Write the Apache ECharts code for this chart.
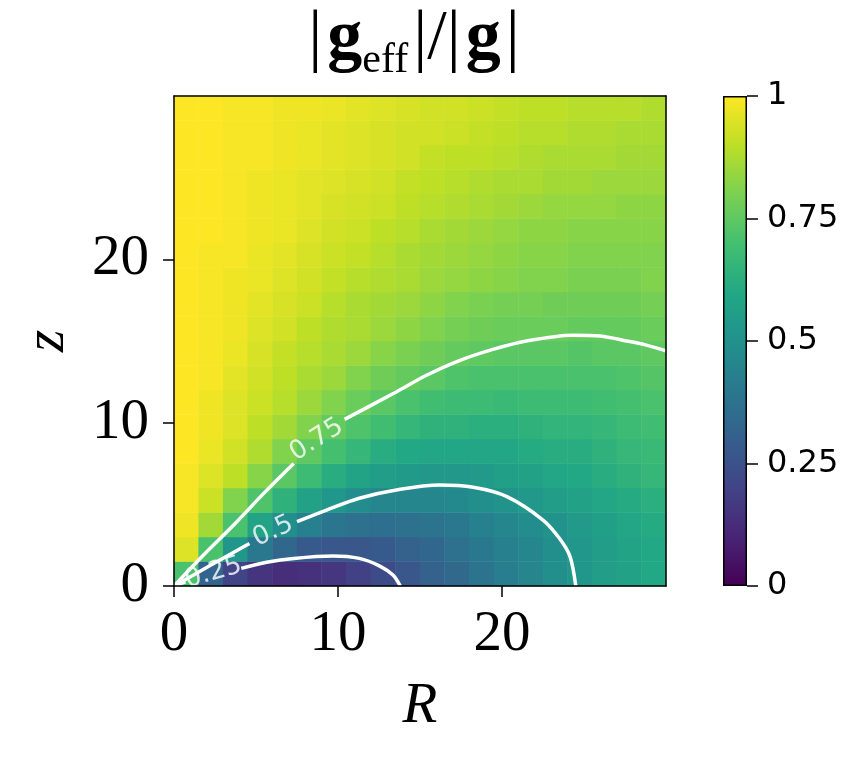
<!DOCTYPE html>
<html>
<head>
<meta charset="utf-8">
<title>|g_eff| / |g|</title>
<script src="https://cdn.jsdelivr.net/npm/echarts@6.0.0/dist/echarts.min.js"></script>
<style>
  html, body { margin: 0; padding: 0; background: #fff; }
  #chart { width: 863px; height: 765px; }
</style>
</head>
<body>
<div id="chart"></div>
<script>
// centres of the colour-map cells, R and z both run 0..30
const rCenters = [0.75, 2.25, 3.75, 5.25, 6.75, 8.25, 9.75, 11.25, 12.75, 14.25, 15.75, 17.25, 18.75, 20.25, 21.75, 23.25, 24.75, 26.25, 27.75, 29.25];
const zCenters = [0.75, 2.25, 3.75, 5.25, 6.75, 8.25, 9.75, 11.25, 12.75, 14.25, 15.75, 17.25, 18.75, 20.25, 21.75, 23.25, 24.75, 26.25, 27.75, 29.25];

// |g_eff|/|g| per cell, one row per z centre (bottom row first)
const ratioRows = [
  [0.71, 0.32, 0.20, 0.15, 0.13, 0.14, 0.16, 0.19, 0.23, 0.27, 0.31, 0.34, 0.38, 0.42, 0.45, 0.49, 0.52, 0.55, 0.57, 0.60],
  [0.95, 0.71, 0.52, 0.40, 0.33, 0.28, 0.27, 0.27, 0.28, 0.31, 0.33, 0.37, 0.40, 0.43, 0.46, 0.49, 0.52, 0.55, 0.58, 0.60],
  [0.98, 0.86, 0.71, 0.58, 0.49, 0.43, 0.39, 0.37, 0.36, 0.37, 0.38, 0.40, 0.43, 0.46, 0.48, 0.51, 0.54, 0.56, 0.59, 0.61],
  [0.99, 0.92, 0.81, 0.72, 0.64, 0.57, 0.52, 0.48, 0.46, 0.46, 0.46, 0.47, 0.49, 0.51, 0.53, 0.55, 0.57, 0.59, 0.61, 0.63],
  [0.99, 0.95, 0.90, 0.82, 0.74, 0.68, 0.62, 0.58, 0.55, 0.54, 0.53, 0.53, 0.54, 0.56, 0.57, 0.59, 0.60, 0.62, 0.64, 0.66],
  [1.00, 0.97, 0.93, 0.88, 0.81, 0.75, 0.70, 0.66, 0.62, 0.60, 0.59, 0.59, 0.59, 0.59, 0.61, 0.62, 0.62, 0.64, 0.66, 0.67],
  [1.00, 0.98, 0.95, 0.90, 0.86, 0.81, 0.76, 0.72, 0.69, 0.66, 0.64, 0.64, 0.63, 0.63, 0.64, 0.65, 0.65, 0.66, 0.68, 0.69],
  [1.00, 0.98, 0.95, 0.92, 0.89, 0.85, 0.81, 0.77, 0.74, 0.71, 0.69, 0.68, 0.68, 0.67, 0.68, 0.68, 0.68, 0.69, 0.70, 0.71],
  [1.00, 0.99, 0.96, 0.93, 0.90, 0.87, 0.85, 0.81, 0.78, 0.76, 0.74, 0.72, 0.71, 0.71, 0.71, 0.71, 0.71, 0.71, 0.72, 0.73],
  [1.00, 0.99, 0.97, 0.94, 0.91, 0.89, 0.87, 0.85, 0.82, 0.80, 0.78, 0.76, 0.75, 0.74, 0.74, 0.74, 0.73, 0.74, 0.74, 0.75],
  [1.00, 0.99, 0.98, 0.95, 0.93, 0.90, 0.88, 0.87, 0.85, 0.83, 0.81, 0.79, 0.78, 0.77, 0.77, 0.77, 0.76, 0.76, 0.76, 0.77],
  [1.00, 0.99, 0.98, 0.96, 0.94, 0.92, 0.89, 0.87, 0.86, 0.85, 0.83, 0.81, 0.80, 0.79, 0.79, 0.78, 0.78, 0.78, 0.78, 0.79],
  [1.00, 0.99, 0.98, 0.97, 0.95, 0.93, 0.91, 0.89, 0.88, 0.87, 0.85, 0.84, 0.83, 0.82, 0.81, 0.81, 0.80, 0.80, 0.80, 0.81],
  [1.00, 0.99, 0.99, 0.97, 0.96, 0.94, 0.92, 0.91, 0.89, 0.87, 0.86, 0.85, 0.84, 0.83, 0.82, 0.82, 0.81, 0.81, 0.81, 0.81],
  [1.00, 1.00, 0.99, 0.98, 0.97, 0.95, 0.93, 0.92, 0.90, 0.89, 0.87, 0.86, 0.85, 0.84, 0.83, 0.83, 0.82, 0.82, 0.82, 0.82],
  [1.00, 1.00, 0.99, 0.98, 0.97, 0.96, 0.94, 0.93, 0.92, 0.90, 0.89, 0.88, 0.87, 0.86, 0.85, 0.84, 0.84, 0.84, 0.83, 0.83],
  [1.00, 1.00, 0.99, 0.98, 0.97, 0.96, 0.95, 0.94, 0.93, 0.91, 0.90, 0.89, 0.88, 0.87, 0.87, 0.86, 0.86, 0.85, 0.85, 0.85],
  [1.00, 1.00, 0.99, 0.99, 0.98, 0.97, 0.96, 0.95, 0.94, 0.93, 0.91, 0.90, 0.90, 0.89, 0.88, 0.87, 0.87, 0.87, 0.86, 0.86],
  [1.00, 1.00, 0.99, 0.99, 0.98, 0.97, 0.96, 0.95, 0.94, 0.93, 0.93, 0.92, 0.91, 0.90, 0.89, 0.89, 0.88, 0.88, 0.87, 0.87],
  [1.00, 1.00, 0.99, 0.99, 0.98, 0.98, 0.97, 0.96, 0.95, 0.94, 0.93, 0.93, 0.92, 0.91, 0.90, 0.90, 0.89, 0.89, 0.89, 0.88]
];

// contour lines [R, z], split where the inline label sits
const contour075a = [[0, 0], [1.8, 1.9], [3.7, 3.8], [5.5, 5.7], [7.3, 7.5]];
const contour075b = [[10.4, 10.2], [13.4, 11.8], [15.4, 12.9], [17.4, 13.8], [19.5, 14.5], [21.5, 15.0], [24.3, 15.35], [26.0, 15.3], [27.6, 15.0], [28.8, 14.75], [30, 14.4]];
const contour050a = [[0, 0], [2.2, 1.25], [4.6, 2.6]];
const contour050b = [[7.5, 3.94], [9.3, 4.65], [11.3, 5.37], [13.8, 5.92], [16.2, 6.18], [18.25, 6.04], [20.3, 5.47], [22.5, 4.04], [23.5, 2.92], [24.15, 1.8], [24.5, 0]];
const contour025a = [[0, 0], [0.7, 0.25]];
const contour025b = [[4.1, 1.08], [5.65, 1.45], [7.3, 1.69], [9.7, 1.84], [11.3, 1.69], [12.55, 1.22], [13.35, 0.67], [13.8, 0]];

const contourLevels = ['0.75', '0.5', '0.25'];
const levelLabelAt = [[8.7, 8.95], [6.05, 3.35], [2.4, 0.8]];
const levelLabelAngle = [32, 25, 16];

const axisTicks = [0, 10, 20];
const colorbarTicks = [0, 0.25, 0.5, 0.75, 1];

const viridis = ['#440154', '#482475', '#414487', '#355f8d', '#2a788e', '#21918c',
                 '#22a884', '#44bf70', '#7ad151', '#bddf26', '#fde725'];

const heatData = [];
ratioRows.forEach((row, j) => row.forEach((v, i) => heatData.push([i, j, v])));

const chart = echarts.init(document.getElementById('chart'));

const serif = 'Liberation Serif';
const black = '#000';

function contourLine(points) {
  return {
    type: 'line',
    xAxisIndex: 1,
    yAxisIndex: 1,
    data: points,
    smooth: 0.3,
    showSymbol: false,
    silent: true,
    z: 3,
    lineStyle: { color: '#fff', width: 3.5 }
  };
}

const frameAxis = {
  type: 'value', min: 0, max: 30, z: 10,
  axisLine: { show: true, onZero: false, lineStyle: { color: black, width: 1.5 } },
  axisTick: { show: false }, axisLabel: { show: false }, splitLine: { show: false }
};

const option = {
  animation: false,
  backgroundColor: '#fff',
  title: {
    text: '{n||}{b|g}{s|eff}{n||/|}{b|g}{n||}',
    left: 414,
    top: -2,
    textAlign: 'center',
    padding: 0,
    textStyle: {
      fontWeight: 'normal',
      rich: {
        n: { fontFamily: serif, fontSize: 70, lineHeight: 84, fontWeight: 'normal', color: black, padding: [0, 5] },
        b: { fontFamily: serif, fontSize: 70, lineHeight: 84, fontWeight: 'bold', color: black },
        s: { fontFamily: serif, fontSize: 42, lineHeight: 38, fontWeight: 'normal', verticalAlign: 'bottom', color: black }
      }
    }
  },
  grid: [
    { left: 174, top: 96, width: 492, height: 490 },
    { left: 723, top: 96, width: 24, height: 490 }
  ],
  visualMap: [{
    type: 'continuous', show: false, min: 0, max: 1, dimension: 2, seriesIndex: 0,
    inRange: { color: viridis }
  }],
  xAxis: [
    { type: 'category', gridIndex: 0, data: rCenters, show: false },
    {
      type: 'value', gridIndex: 0, min: 0, max: 30, position: 'bottom', z: 10,
      axisLine: { show: true, onZero: false, lineStyle: { color: black, width: 1.5 } },
      axisTick: { show: true, length: 11, customValues: axisTicks, lineStyle: { color: black, width: 1.5 } },
      axisLabel: { customValues: axisTicks, fontFamily: serif, fontSize: 57, color: black, margin: 21 },
      splitLine: { show: false },
      name: 'R', nameLocation: 'middle', nameGap: 93,
      nameTextStyle: { fontFamily: serif, fontStyle: 'italic', fontSize: 57, color: black }
    },
    Object.assign({ gridIndex: 0, position: 'top' }, frameAxis),
    { type: 'category', gridIndex: 1, data: ['bar'], show: false }
  ],
  yAxis: [
    { type: 'category', gridIndex: 0, data: zCenters, show: false },
    {
      type: 'value', gridIndex: 0, min: 0, max: 30, position: 'left', z: 10,
      axisLine: { show: true, onZero: false, lineStyle: { color: black, width: 1.5 } },
      axisTick: { show: true, length: 11, customValues: axisTicks, lineStyle: { color: black, width: 1.5 } },
      axisLabel: { customValues: axisTicks, fontFamily: serif, fontSize: 57, color: black, margin: 25 },
      splitLine: { show: false },
      name: 'z', nameLocation: 'middle', nameGap: 97, nameRotate: 90,
      nameTextStyle: { fontFamily: serif, fontStyle: 'italic', fontSize: 57, color: black }
    },
    Object.assign({ gridIndex: 0, position: 'right' }, frameAxis),
    {
      type: 'value', gridIndex: 1, min: 0, max: 1, position: 'right', z: 10,
      axisLine: { show: false },
      axisTick: { show: true, length: 11, customValues: colorbarTicks, lineStyle: { color: black, width: 1.5 } },
      axisLabel: { customValues: colorbarTicks, fontFamily: 'DejaVu Sans', fontSize: 32, color: black, margin: 20 },
      splitLine: { show: false }
    }
  ],
  series: [
    {
      type: 'heatmap',
      xAxisIndex: 0,
      yAxisIndex: 0,
      data: heatData,
      silent: true,
      itemStyle: { borderWidth: 0 },
      emphasis: { disabled: true }
    },
    contourLine(contour075a),
    contourLine(contour075b),
    contourLine(contour050a),
    contourLine(contour050b),
    contourLine(contour025a),
    contourLine(contour025b),
    {
      type: 'scatter',
      xAxisIndex: 1,
      yAxisIndex: 1,
      silent: true,
      symbolSize: 0,
      z: 4,
      data: levelLabelAt.map((p, k) => ({
        value: p,
        label: { rotate: levelLabelAngle[k], formatter: contourLevels[k] }
      })),
      label: {
        show: true, position: 'inside', color: '#fff',
        fontFamily: 'DejaVu Sans', fontSize: 26
      }
    },
    {
      // colour bar
      type: 'bar',
      xAxisIndex: 3,
      yAxisIndex: 3,
      data: [1],
      barWidth: '100%',
      silent: true,
      itemStyle: {
        color: new echarts.graphic.LinearGradient(0, 1, 0, 0,
          viridis.map((c, k) => ({ offset: k / (viridis.length - 1), color: c }))),
        borderColor: black,
        borderWidth: 1.5
      }
    }
  ]
};

chart.setOption(option);
</script>
</body>
</html>
